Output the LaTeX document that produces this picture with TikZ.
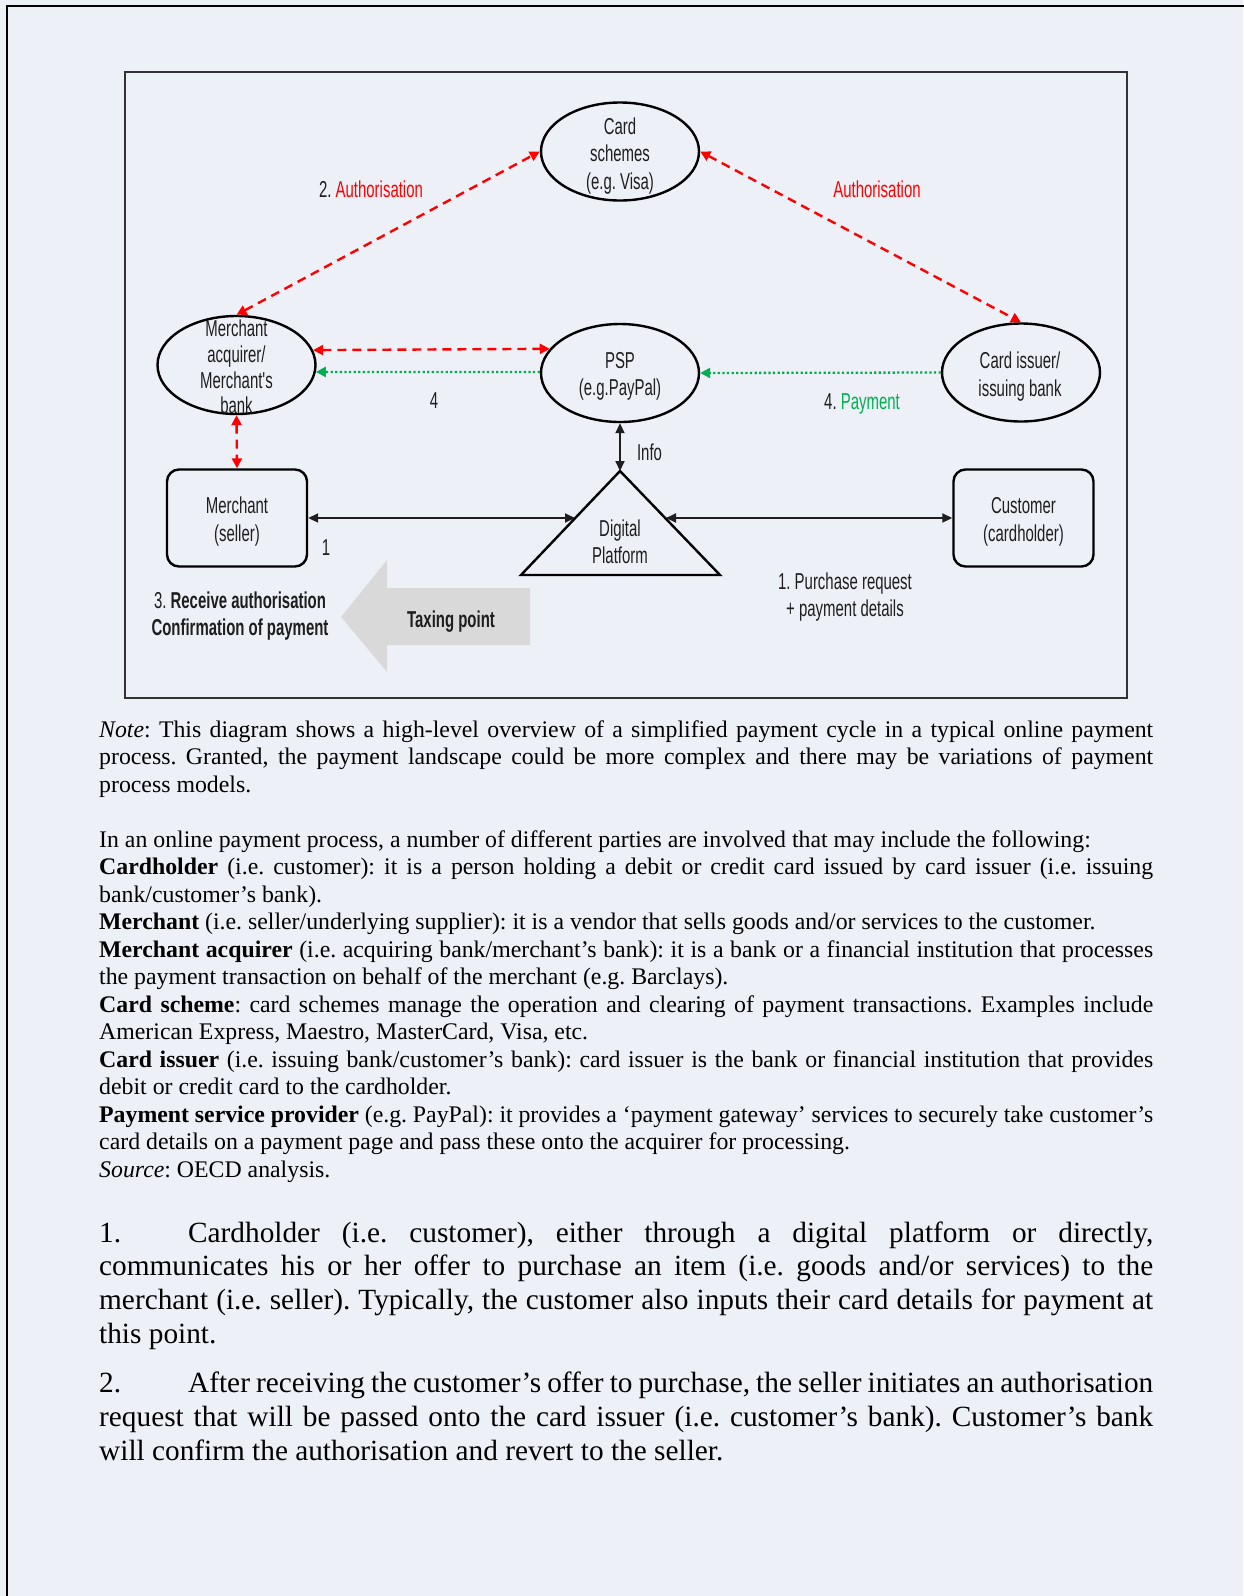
\documentclass[tikz,border=0pt]{standalone}
\usepackage{fontspec}
\setmainfont{Liberation Serif}
\newfontfamily\diagfont[FakeStretch=0.65]{Liberation Sans}
\usetikzlibrary{arrows.meta,shapes.geometric}
\definecolor{bg}{RGB}{237,240,247}
\definecolor{authred}{RGB}{255,0,0}
\definecolor{paygreen}{RGB}{0,176,80}
\definecolor{taxgray}{RGB}{217,217,217}
\definecolor{txt}{RGB}{30,30,30}
\frenchspacing
\begin{document}
\begin{tikzpicture}[x=1pt,y=-1pt,
  ell/.style={draw=black,line width=2.4pt,ellipse,minimum width=158pt,minimum height=98pt,inner sep=0pt},
  rbox/.style={draw=black,line width=2.4pt,rounded corners=12pt,minimum width=140pt,minimum height=97pt,inner sep=0pt},
  lbl/.style={font=\diagfont\fontsize{23}{27.5}\selectfont,text=txt,align=center,inner sep=0pt},
  blk/.style={draw=txt,line width=1.8pt,{Triangle[length=10pt,width=9pt]}-{Triangle[length=10pt,width=9pt]}},
  auth/.style={draw=authred,line width=2.4pt,dash pattern=on 9pt off 6pt,{Triangle[length=10pt,width=10pt]}-{Triangle[length=10pt,width=10pt]}},
  pay/.style={draw=paygreen,line width=2.3pt,dash pattern=on 2.3pt off 2.3pt,-{Triangle[length=10pt,width=10pt]}},
  body/.style={anchor=base west,inner sep=0pt,text width=1054pt,align=justify,text=black},
]
\useasboundingbox (0,0) rectangle (1243,1596);
\fill[bg] (0,0) rectangle (1243,1596);
% outer frame (top and left edges)
\draw[line width=2.3pt] (7,1600) -- (7,6.2) -- (1250,6.2);
% inner diagram frame
\draw[line width=1.6pt,draw=black!80] (125,72) rectangle (1127,698);

% nodes
\node[ell] (cs) at (620,151.5) {};
\node[lbl] (cst) at (620,156) {Card\\schemes\\(e.g. Visa)};
\node[ell] (acq) at (236.5,365) {};
\node[lbl,font=\diagfont\fontsize{23}{25.7}\selectfont] (acqt) at (236.5,367) {Merchant\\acquirer/\\Merchant's\\bank};
\node[ell] (psp) at (620,373) {};
\node[lbl] (pspt) at (620,376.5) {PSP\\(e.g.PayPal)};
\node[ell] (ci) at (1021,372.5) {};
\node[lbl] (cit) at (1020,376.5) {Card issuer/\\issuing bank};
\node[rbox] (mer) at (237,518) {};
\node[lbl] (mert) at (237,521.5) {Merchant\\(seller)};
\node[rbox] (cust) at (1023.5,518) {};
\node[lbl] (custt) at (1023.5,522) {Customer\\(cardholder)};

% digital platform triangle
\draw[line width=2.4pt,line join=miter] (620,471) -- (720,575) -- (521,575) -- cycle;
\coordinate (dpapex) at (620,471);
\coordinate (dpl) at (575,518);
\coordinate (dpr) at (666,518);
\node[lbl] (dp) at (620,542) {Digital\\Platform};

% taxing point arrow
\fill[taxgray] (341,617) -- (387,560) -- (387,588) -- (530,588) -- (530,645) -- (387,645) -- (387,672) -- cycle;
\node[lbl,font=\diagfont\bfseries\fontsize{23}{27.5}\selectfont] (tax) at (451,622) {Taxing point};

% connectors
\draw[auth] (acq.north) -- (cs.west);
\draw[auth] (cs.east) -- (ci.north);
\draw[auth] (acq.11) -- (psp.161);
\draw[auth] (acq.south) -- (mer.north);
\draw[pay] (psp.west |- 0,372) -- (acq.-5);
\draw[pay] (ci.west) -- (psp.east);
\draw[blk] (psp.south) -- (dpapex);
\draw[blk] (mer.east) -- (dpl);
\draw[blk] (dpr) -- (cust.west);

% labels
\node[lbl] (l2) at (371,189) {2. \textcolor{authred}{Authorisation}};
\node[lbl] (la) at (877,189) {\textcolor{authred}{Authorisation}};
\node[lbl] (l4) at (434,401) {4};
\node[lbl] (l4p) at (862,404) {4. \textcolor{paygreen}{Payment}};
\node[lbl] (linfo) at (649.5,452) {Info};
\node[lbl] (l1) at (326,548) {1};
\node[lbl] (lpr) at (845,597) {1. Purchase request\\+ payment details};
\node[lbl] (l3) at (240,616) {3. \textbf{Receive authorisation}\\\textbf{Confirmation of payment}};

% text below
\node[body,font=\fontsize{23.8}{27.5}\selectfont] (note) at (99,737) {\hyphenpenalty=10000\exhyphenpenalty=10000\tolerance=10000%
\textit{Note}: This diagram shows a high-level overview of a simplified payment cycle in a typical online payment\linebreak
process. Granted, the payment landscape could be more complex and there may be variations of payment\linebreak
process models.};

\node[body,font=\fontsize{23.8}{27.5}\selectfont] (defs) at (99,847) {\hyphenpenalty=10000\exhyphenpenalty=10000\tolerance=10000%
In an online payment process, a number of different parties are involved that may include the following:\par
\textbf{Cardholder} (i.e. customer): it is a person holding a debit or credit card issued by card issuer (i.e. issuing\linebreak
bank/customer’s bank).\par
\textbf{Merchant} (i.e. seller/underlying supplier): it is a vendor that sells goods and/or services to the customer.\par
\textbf{Merchant acquirer} (i.e. acquiring bank/merchant’s bank): it is a bank or a financial institution that processes\linebreak
the payment transaction on behalf of the merchant (e.g. Barclays).\par
\textbf{Card scheme}: card schemes manage the operation and clearing of payment transactions. Examples include\linebreak
American Express, Maestro, MasterCard, Visa, etc.\par
\textbf{Card issuer} (i.e. issuing bank/customer’s bank): card issuer is the bank or financial institution that provides\linebreak
debit or credit card to the cardholder.\par
\textbf{Payment service provider} (e.g. PayPal): it provides a ‘payment gateway’ services to securely take customer’s\linebreak
card details on a payment page and pass these onto the acquirer for processing.\par
\textit{Source}: OECD analysis.};

\node[body,font=\fontsize{29.3}{33.6}\selectfont] (p1) at (99,1242.3) {\hyphenpenalty=10000\exhyphenpenalty=10000\tolerance=10000%
\makebox[89pt][l]{1.}Cardholder (i.e. customer), either through a digital platform or directly,\linebreak
communicates his or her offer to purchase an item (i.e. goods and/or services) to the\linebreak
merchant (i.e. seller). Typically, the customer also inputs their card details for payment at\linebreak
this point.};

\node[body,font=\fontsize{29.3}{33.6}\selectfont] (p2) at (99,1392.8) {\hyphenpenalty=10000\exhyphenpenalty=10000\tolerance=10000%
\makebox[89pt][l]{2.}After receiving the customer’s offer to purchase, the seller initiates an authorisation\linebreak
request that will be passed onto the card issuer (i.e. customer’s bank). Customer’s bank\linebreak
will confirm the authorisation and revert to the seller.};
\end{tikzpicture}
\end{document}
